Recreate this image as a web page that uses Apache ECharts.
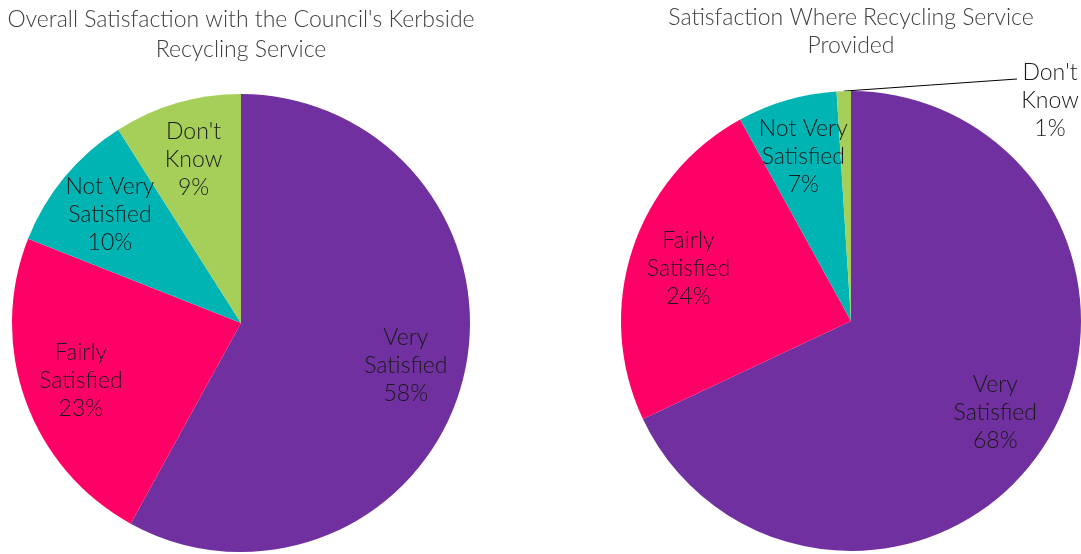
<!DOCTYPE html>
<html><head><meta charset="utf-8">
<script src="https://cdn.jsdelivr.net/npm/echarts@6/dist/echarts.min.js"></script>
<style>html,body{margin:0;padding:0;background:#fff}#c{width:1081px;height:554px}</style>
</head><body><div id="c"></div>
<script>
const categories = ['Very Satisfied', 'Fairly Satisfied', 'Not Very Satisfied', "Don't Know"];
const labelTexts = ['Very\nSatisfied', 'Fairly\nSatisfied', 'Not Very\nSatisfied', "Don't\nKnow"];
const overallValues = [58, 23, 10, 9];
const providedValues = [68, 24, 7, 1];
const colors = ['#7030A0', '#FF0066', '#00B4B4', '#A5CF59'];
const titles = ["Overall Satisfaction with the Council's Kerbside\nRecycling Service", 'Satisfaction Where Recycling Service\nProvided'];

const FONT = 'Lato';
function mk(vals) {
  return vals.map((v, i) => ({ name: categories[i], value: v, itemStyle: { color: colors[i] } }));
}
function lbl(p) { return labelTexts[p.dataIndex] + '\n' + p.value + '%'; }
const labelStyle = { color: '#1a1a1a', fontFamily: FONT, fontWeight: 300, fontSize: 23, lineHeight: 28 };

function piePair(vals, center, r, outsideIdx) {
  const base = {
    type: 'pie', center: center, radius: [0, r], startAngle: 90, clockwise: true,
    silent: true, animation: false, data: mk(vals),
    itemStyle: { borderWidth: 0 },
    label: { show: false }, labelLine: { show: false }
  };
  const overlay = {
    type: 'pie', center: center, radius: [r * 0.46, r], startAngle: 90, clockwise: true,
    silent: true, animation: false,
    data: vals.map((v, i) => ({
      name: categories[i], value: v,
      itemStyle: { color: 'rgba(0,0,0,0)' },
      label: i === outsideIdx ? { show: false } : {}
    })),
    label: Object.assign({ show: true, position: 'inside', formatter: lbl, align: 'center' }, labelStyle),
    labelLine: { show: false }
  };
  return [base, overlay];
}

const rightOutside = {
  type: 'pie', center: [851, 321], radius: [0, 230], startAngle: 90, clockwise: true,
  silent: true, animation: false,
  data: providedValues.map((v, i) => ({
    name: categories[i], value: v,
    itemStyle: { color: 'rgba(0,0,0,0)' },
    label: i === 3 ? {} : { show: false },
    labelLine: i === 3 ? { show: true } : { show: false }
  })),
  label: Object.assign({ show: true, position: 'outside', formatter: lbl, align: 'center' }, labelStyle),
  labelLine: { show: true, length: 5, length2: 10, lineStyle: { color: '#000', width: 1 } },
  labelLayout: function (p) {
    if (p.dataIndex === 3) {
      const s = p.labelLinePoints ? p.labelLinePoints[0] : [844, 91];
      const e = [1017, 79];
      return { x: 1050, y: 101, align: 'center', verticalAlign: 'middle',
        labelLinePoints: [s, [(s[0] + e[0]) / 2, (s[1] + e[1]) / 2], e] };
    }
  }
};

const chart = echarts.init(document.getElementById('c'), null, { renderer: 'canvas' });
chart.setOption({
  backgroundColor: '#fff',
  animation: false,
  title: [
    { text: titles[0], left: 236, top: 0, textAlign: 'center',
      textStyle: { fontFamily: FONT, fontWeight: 300, fontSize: 23, lineHeight: 30, color: '#404040' } },
    { text: titles[1], left: 846, top: -1, textAlign: 'center',
      textStyle: { fontFamily: FONT, fontWeight: 300, fontSize: 23, lineHeight: 28, color: '#404040' } }
  ],
  series: [].concat(piePair(overallValues, [241, 323], 229, -1), piePair(providedValues, [851, 321], 230, 3), [rightOutside])
});
</script></body></html>
